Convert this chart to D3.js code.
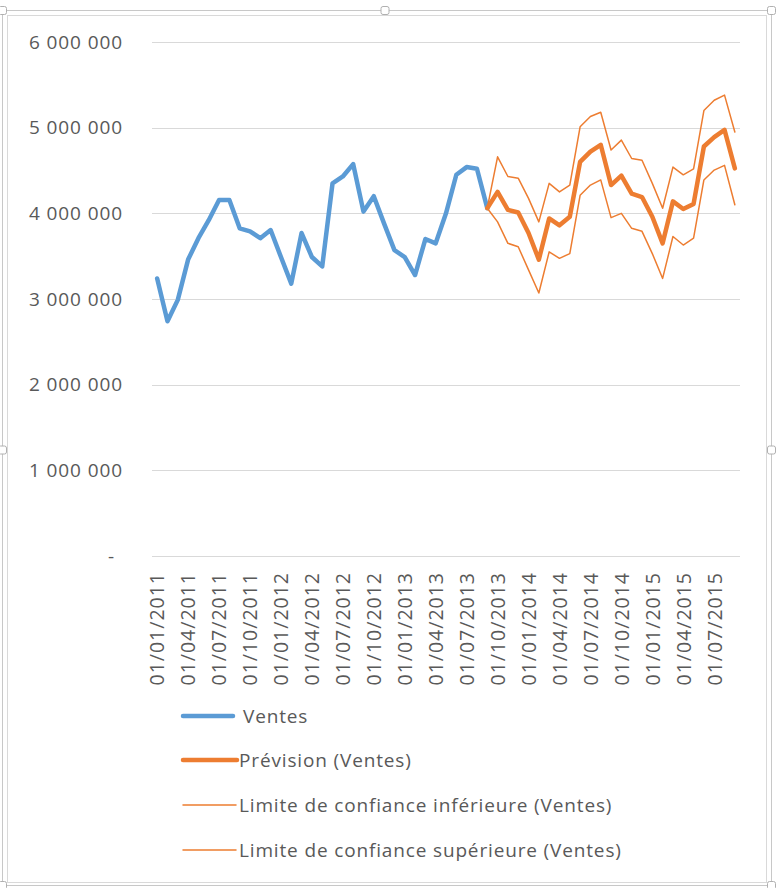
<!DOCTYPE html>
<html><head><meta charset="utf-8">
<script src="https://cdn.jsdelivr.net/npm/d3@7"></script>
<style>
html,body{margin:0;padding:0;background:#fff;}
svg{display:block;}
text{font-family:"Open Sans","Noto Sans",sans-serif;fill:#595959;}
</style></head><body>
<svg id="chart" width="776" height="888"></svg>
<script>
// Categories: monthly, 01/2011 .. 09/2015
const months = ["2011-01","2011-02","2011-03","2011-04","2011-05","2011-06","2011-07","2011-08","2011-09","2011-10","2011-11","2011-12",
"2012-01","2012-02","2012-03","2012-04","2012-05","2012-06","2012-07","2012-08","2012-09","2012-10","2012-11","2012-12",
"2013-01","2013-02","2013-03","2013-04","2013-05","2013-06","2013-07","2013-08","2013-09","2013-10","2013-11","2013-12",
"2014-01","2014-02","2014-03","2014-04","2014-05","2014-06","2014-07","2014-08","2014-09","2014-10","2014-11","2014-12",
"2015-01","2015-02","2015-03","2015-04","2015-05","2015-06","2015-07","2015-08","2015-09"];
// Ventes: 2011-01 .. 2013-09
const ventes = [3240000,2740000,2990000,3460000,3710000,3920000,4155000,4155000,3825000,3790000,3710000,3805000,
3490000,3180000,3770000,3490000,3380000,4350000,4430000,4575000,4020000,4200000,3880000,3570000,
3490000,3280000,3700000,3650000,4000000,4450000,4540000,4520000,4060000];
// Forecast series start at 2013-09
const forecastStart = "2013-09";
const prevision = [4060000,4250000,4040000,4010000,3770000,3460000,3940000,3860000,3960000,4600000,4720000,4800000,
4330000,4440000,4230000,4190000,3960000,3650000,4140000,4050000,4110000,4780000,4890000,4975000,4525000];
const limiteInf = [4060000,3900000,3650000,3610000,3340000,3070000,3550000,3475000,3530000,4210000,4330000,4390000,
3950000,4000000,3825000,3790000,3530000,3240000,3730000,3630000,3710000,4390000,4505000,4560000,4100000];
const limiteSup = [4060000,4660000,4430000,4410000,4175000,3900000,4350000,4250000,4330000,5010000,5130000,5180000,
4740000,4855000,4640000,4620000,4350000,4060000,4540000,4450000,4520000,5200000,5320000,5380000,4950000];
const yTicks = [0,1000000,2000000,3000000,4000000,5000000,6000000];
const xTickMonths = ["2011-01","2011-04","2011-07","2011-10","2012-01","2012-04","2012-07","2012-10","2013-01","2013-04","2013-07","2013-10","2014-01","2014-04","2014-07","2014-10","2015-01","2015-04","2015-07"];
const legendLabels = ["Ventes","Prévision (Ventes)","Limite de confiance inférieure (Ventes)","Limite de confiance supérieure (Ventes)"];

const blue = "#5B9BD5", orange = "#ED7D31";
const svg = d3.select("#chart");

// frame
svg.append("rect").attr("x",2.5).attr("y",10.5).attr("width",769).attr("height",875)
  .attr("fill","none").attr("stroke","#c8c8c8").attr("stroke-width",1);
svg.append("rect").attr("x",7.5).attr("y",15.5).attr("width",759).attr("height",867)
  .attr("fill","none").attr("stroke","#d9d9d9").attr("stroke-width",1);
[[2.5,10.5],[385,10.5],[771.5,10.5],[2.5,450],[771.5,450],[2.5,885.5],[771.5,885.5]].forEach(p=>{
  svg.append("rect").attr("x",p[0]-4).attr("y",p[1]-4).attr("width",8).attr("height",8).attr("rx",2)
    .attr("fill","#fff").attr("stroke","#b0b0b0");
});

const x = d3.scalePoint().domain(months).range([152,740]).padding(0.5);
const y = d3.scaleLinear().domain([0,6000000]).range([556,42]);

// gridlines
svg.append("g").selectAll("line").data(yTicks).join("line")
  .attr("x1",152).attr("x2",740).attr("y1",d=>Math.round(y(d))+0.5).attr("y2",d=>Math.round(y(d))+0.5)
  .attr("stroke","#d9d9d9").attr("stroke-width",1);

// y axis labels
const fmt = d=> d===0 ? "-" : d3.format(",")(d).replace(/,/g," ");
const yAxis = d3.axisLeft(y).tickValues(yTicks).tickSize(0).tickPadding(0).tickFormat(fmt);
const ya = svg.append("g").attr("transform","translate(123,0)").call(yAxis);
ya.select(".domain").remove();
ya.selectAll("text").style("font-size","19px").style("letter-spacing","0.9px").attr("fill","#595959").attr("font-family",null)
  .attr("dx",d=>d===0?"-8px":"0");

// x axis labels
const xa = svg.append("g").attr("transform","translate(0,572)")
  .call(d3.axisBottom(x).tickValues(xTickMonths).tickSize(0).tickPadding(0)
    .tickFormat(m=>"01/"+m.slice(5,7)+"/"+m.slice(0,4)));
xa.select(".domain").remove();
xa.selectAll("text").style("font-size","19.5px").style("letter-spacing","1px").attr("fill","#595959").attr("font-family",null)
  .attr("text-anchor","end").attr("transform","rotate(-90)").attr("x",0).attr("y",0).attr("dy","0.35em");

const fIdx = months.indexOf(forecastStart);
const line = d3.line().x(d=>x(d.m)).y(d=>y(d.v));
const vData = ventes.map((v,i)=>({m:months[i],v}));
const toData = arr => arr.map((v,i)=>({m:months[fIdx+i],v}));

svg.append("path").datum(vData).attr("d",line).attr("fill","none").attr("stroke",blue)
  .attr("stroke-width",4.5).attr("stroke-linejoin","round").attr("stroke-linecap","round");
svg.append("path").datum(toData(prevision)).attr("d",line).attr("fill","none").attr("stroke",orange)
  .attr("stroke-width",4.5).attr("stroke-linejoin","round").attr("stroke-linecap","round");
[limiteInf,limiteSup].forEach(arr=>{
  svg.append("path").datum(toData(arr)).attr("d",line).attr("fill","none").attr("stroke",orange)
    .attr("stroke-width",1.5).attr("stroke-linejoin","round").attr("stroke-linecap","round");
});

// legend
const legY = [716,760,805,850];
const legStyles = [{c:blue,w:4.5,x2:233,tx:243},{c:orange,w:4.5,x2:237,tx:239},{c:orange,w:1.5,x2:236,tx:239},{c:orange,w:1.5,x2:236,tx:239}];
legendLabels.forEach((t,i)=>{
  const s = legStyles[i];
  svg.append("line").attr("x1",183).attr("x2",s.x2).attr("y1",legY[i]).attr("y2",legY[i])
    .attr("stroke",s.c).attr("stroke-width",s.w).attr("stroke-linecap","round");
  svg.append("text").attr("x",s.tx).attr("y",legY[i]).attr("dy","0.35em").style("font-size","19px")
    .style("letter-spacing","0.85px").text(t);
});
</script>
</body></html>
